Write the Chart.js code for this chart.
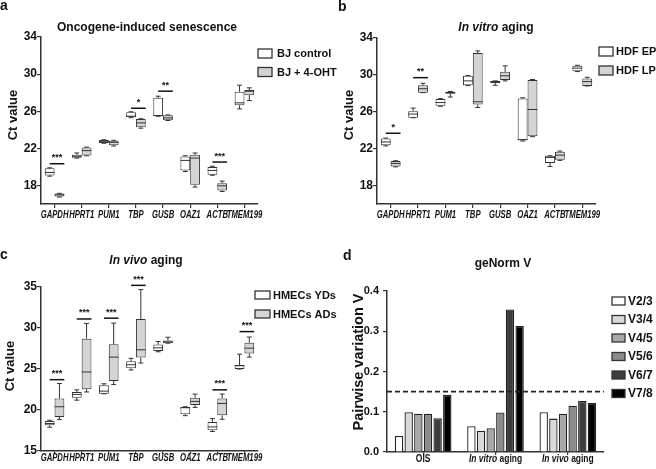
<!DOCTYPE html>
<html>
<head>
<meta charset="utf-8">
<script src="https://cdn.jsdelivr.net/npm/chart.js@4.4.1/dist/chart.umd.min.js"></script>
<style>
  body { margin: 0; background: #fff; width: 656px; height: 469px; overflow: hidden; position: relative; }
  canvas { position: absolute; }
</style>
</head>
<body>
<canvas id="chartA" width="345" height="230" style="left:0;top:0"></canvas>
<canvas id="chartB" width="328" height="230" style="left:328px;top:0"></canvas>
<canvas id="chartC" width="345" height="239" style="left:0;top:230px"></canvas>
<canvas id="chartD" width="328" height="239" style="left:328px;top:230px"></canvas>
<script>
// ---- data ----
const genes = ['GAPDH', 'HPRT1', 'PUM1', 'TBP', 'GUSB', 'OAZ1', 'ACTB', 'TMEM199'];

// each entry: [min, q1, median, q3, max]
const oisControl = [[19.0, 19.08, 19.4, 19.84, 19.9], [20.95, 20.98, 21.15, 21.3, 21.5], [22.55, 22.58, 22.76, 22.9, 22.92],
  [25.3, 25.35, 25.46, 25.9, 25.94], [25.46, 25.46, 25.53, 27.44, 27.62], [19.5, 19.62, 20.7, 21.13, 21.2],
  [19.1, 19.15, 19.62, 20.0, 20.07], [26.25, 26.65, 26.9, 28.1, 28.8]];
const oisTreated = [[16.75, 16.81, 16.99, 17.13, 17.15], [21.2, 21.24, 21.75, 22.1, 22.13], [22.25, 22.32, 22.65, 22.83, 22.87],
  [24.17, 24.27, 24.74, 25.17, 25.19], [25.0, 25.03, 25.28, 25.57, 25.6], [17.82, 18.07, 20.95, 21.3, 21.5],
  [17.35, 17.46, 17.96, 18.25, 18.47], [27.15, 27.73, 28.16, 28.3, 28.52]];
const oisSigGenes = ['GAPDH', 'TBP', 'GUSB', 'ACTB'];
const oisSigLevels = [20.34, 26.32, 28.16, 20.52];
const oisSigStars = ['***', '*', '**', '***'];

const hdfEarly = [[22.3, 22.36, 22.73, 23.09, 23.15], [25.35, 25.35, 25.75, 26.07, 26.4], [26.6, 26.65, 27.0, 27.38, 27.42],
  [28.83, 28.87, 29.35, 29.9, 29.94], [28.87, 29.13, 29.24, 29.35, 29.35], [22.83, 22.9, 22.98, 27.45, 27.52],
  [20.07, 20.44, 21.05, 21.24, 21.24], [30.36, 30.4, 30.73, 31.0, 31.04]];
const hdfLate = [[20.03, 20.07, 20.4, 20.65, 20.69], [28.07, 28.07, 28.5, 28.87, 29.09], [27.6, 27.96, 28.07, 28.18, 28.2],
  [26.47, 26.8, 27.09, 32.36, 32.6], [29.35, 29.45, 29.9, 30.33, 30.98], [23.3, 23.35, 26.25, 29.45, 29.5],
  [20.73, 20.8, 21.3, 21.67, 21.74], [28.8, 28.8, 29.27, 29.6, 29.74]];
const hdfSigGenes = ['GAPDH', 'HPRT1'];
const hdfSigLevels = [23.67, 29.7];
const hdfSigStars = ['*', '**'];

const hmecYoung = [[17.9, 18.15, 18.35, 18.67, 18.75], [21.2, 21.5, 21.9, 22.2, 22.46], [21.98, 21.98, 22.3, 23.02, 23.2],
  [24.88, 25.08, 25.52, 25.93, 26.3], [27.1, 27.18, 27.58, 27.98, 28.35], [19.31, 19.48, 20.28, 20.36, 20.4],
  [17.38, 17.54, 17.94, 18.55, 18.95], [25.0, 25.0, 25.4, 25.48, 26.81]];
const hmecAged = [[18.83, 19.15, 20.4, 21.41, 23.23], [22.2, 22.54, 24.64, 28.7, 30.56], [23.1, 23.55, 26.45, 28.02, 30.6],
  [25.73, 26.41, 27.34, 31.1, 34.68], [28.15, 28.15, 28.3, 28.47, 28.87], [20.32, 20.6, 21.05, 21.5, 21.94],
  [18.87, 19.35, 20.8, 21.41, 21.94], [26.45, 26.9, 27.54, 28.2, 28.9]];
const hmecSigGenes = ['GAPDH', 'HPRT1', 'PUM1', 'TBP', 'ACTB', 'TMEM199'];
const hmecSigLevels = [23.7, 31.1, 31.2, 35.2, 22.46, 29.56];
const hmecSigStars = ['***', '***', '***', '***', '***', '***'];

const ctTicksAB = [18, 22, 26, 30, 34];
const ctTicksC = [15, 20, 25, 30, 35];

const vGroups = ['OIS', 'In vitro aging', 'In vivo aging'];
const vNames = ['V2/3', 'V3/4', 'V4/5', 'V5/6', 'V6/7', 'V7/8'];
const v23 = [0.040, 0.064, 0.099];
const v34 = [0.099, 0.053, 0.083];
const v45 = [0.095, 0.059, 0.095];
const v56 = [0.095, 0.098, 0.115];
const v67 = [0.084, 0.354, 0.127];
const v78 = [0.142, 0.313, 0.122];
const vCutoff = 0.15;
const vTicks = [0, 0.1, 0.2, 0.3, 0.4];

// ---- style ----
const SANS = '"Liberation Sans", Arial, sans-serif';
const INK = '#111';
const EDGE = '#333';
const BOX_GRAY = '#d4d4d4';
const vColors = ['#ffffff', '#d9d9d9', '#a8a8a8', '#8a8a8a', '#3d3d3d', '#000000'];

Chart.defaults.font.family = SANS;
Chart.defaults.color = INK;

// text made of plain/italic parts, centred on (cx, cy), optionally squeezed sideways
function drawRich(ctx, parts, cx, cy, size, squeeze, allItalic) {
  const fonts = parts.map(p => (p[1] || allItalic ? 'italic ' : '') + 'bold ' + size + 'px ' + SANS);
  let total = 0;
  const widths = parts.map((p, i) => {
    ctx.font = fonts[i];
    const w = ctx.measureText(p[0]).width;
    total += w;
    return w;
  });
  ctx.save();
  ctx.translate(cx, cy);
  ctx.scale(squeeze || 1, 1);
  let x = -total / 2;
  ctx.textAlign = 'left';
  ctx.textBaseline = 'middle';
  parts.forEach((p, i) => {
    ctx.font = fonts[i];
    ctx.fillText(p[0], x, 0);
    x += widths[i];
  });
  ctx.restore();
}

function italicPrefix(label) {
  const m = label.match(/^(In v\w+)(.*)$/);
  return m ? [[m[1], true], [m[2], false]] : [[label, false]];
}

// whiskers + medians on top of the floating bars
const boxWhiskers = {
  id: 'boxWhiskers',
  afterDatasetsDraw(chart) {
    const ctx = chart.ctx, y = chart.scales.y;
    ctx.save();
    ctx.strokeStyle = EDGE;
    ctx.lineWidth = 1;
    chart.data.datasets.forEach((ds, di) => {
      if (!ds.stats) return;
      chart.getDatasetMeta(di).data.forEach((bar, i) => {
        const s = ds.stats[i];
        const x = bar.x, hw = bar.width / 2, cap = bar.width * 0.25;
        const py = s.map(v => y.getPixelForValue(v));
        ctx.beginPath();
        ctx.moveTo(x, py[4]); ctx.lineTo(x, py[3]);
        ctx.moveTo(x, py[1]); ctx.lineTo(x, py[0]);
        ctx.moveTo(x - cap, py[4]); ctx.lineTo(x + cap, py[4]);
        ctx.moveTo(x - cap, py[0]); ctx.lineTo(x + cap, py[0]);
        ctx.moveTo(x - hw, py[2]); ctx.lineTo(x + hw, py[2]);
        ctx.stroke();
      });
    });
    ctx.restore();
  }
};

// significance bars with stars
const sigMarks = {
  id: 'sigMarks',
  afterDraw(chart, args, o) {
    if (!o.genes) return;
    const ctx = chart.ctx, xs = chart.scales.x, ys = chart.scales.y;
    const w = chart.getDatasetMeta(0).data[0].width;
    ctx.save();
    ctx.strokeStyle = INK;
    ctx.fillStyle = INK;
    ctx.lineWidth = 1.5;
    ctx.font = 'bold 9px ' + SANS;
    ctx.textAlign = 'center';
    ctx.textBaseline = 'middle';
    o.genes.forEach((g, k) => {
      const cx = xs.getPixelForValue(genes.indexOf(g));
      const py = ys.getPixelForValue(o.levels[k]);
      ctx.beginPath();
      ctx.moveTo(cx - w / 2, py);
      ctx.lineTo(cx + w, py);
      ctx.stroke();
      ctx.fillText(o.stars[k], cx + w / 4, py - 6);
    });
    ctx.restore();
  }
};

// dashed cut-off line for panel d
const cutoffLine = {
  id: 'cutoffLine',
  afterDatasetsDraw(chart, args, o) {
    if (o.value === undefined) return;
    const ctx = chart.ctx, a = chart.chartArea;
    const py = chart.scales.y.getPixelForValue(o.value);
    ctx.save();
    ctx.strokeStyle = '#222';
    ctx.lineWidth = 1.8;
    ctx.setLineDash([5, 3]);
    ctx.beginPath();
    ctx.moveTo(a.left, py);
    ctx.lineTo(a.right, py);
    ctx.stroke();
    ctx.restore();
  }
};

// panel letter, title, y title, legend, condensed x labels
const figureText = {
  id: 'figureText',
  afterDraw(chart, args, o) {
    const ctx = chart.ctx;
    ctx.save();
    ctx.fillStyle = INK;
    ctx.font = 'bold 14px ' + SANS;
    ctx.textAlign = 'left';
    ctx.textBaseline = 'alphabetic';
    ctx.fillText(o.letter, o.letterX, o.letterY);

    drawRich(ctx, o.title, o.titleX, o.titleY, 12);

    ctx.save();
    ctx.translate(o.yTitleX, o.yTitleY);
    ctx.rotate(-Math.PI / 2);
    ctx.font = 'bold ' + o.yTitleSize + 'px ' + SANS;
    ctx.textAlign = 'center';
    ctx.textBaseline = 'middle';
    ctx.fillText(o.yTitle, 0, 0);
    ctx.restore();

    const lg = o.legend;
    chart.data.datasets.forEach((ds, i) => {
      const top = lg.y + i * lg.step;
      ctx.fillStyle = ds.backgroundColor;
      ctx.fillRect(lg.x, top, lg.w, lg.h);
      ctx.strokeStyle = EDGE;
      ctx.lineWidth = 1.3;
      ctx.strokeRect(lg.x, top, lg.w, lg.h);
      ctx.fillStyle = INK;
      ctx.font = 'bold ' + lg.size + 'px ' + SANS;
      ctx.textAlign = 'left';
      ctx.textBaseline = 'middle';
      ctx.fillText(ds.label, lg.tx, top + lg.h / 2 + 0.5);
    });

    const xs = chart.scales.x;
    chart.data.labels.forEach((lab, i) => {
      drawRich(ctx, italicPrefix(lab), xs.getPixelForValue(i), chart.chartArea.bottom + o.xLabelOffset,
        11, o.xSqueeze, o.italicX);
    });
    ctx.restore();
  }
};

function boxPanel(id, g) {
  return new Chart(document.getElementById(id), {
    type: 'bar',
    data: {
      labels: genes,
      datasets: g.groups.map((grp, k) => ({
        label: grp.name,
        data: grp.stats.map(s => [s[1], s[3]]),
        stats: grp.stats,
        backgroundColor: k ? BOX_GRAY : '#ffffff',
        borderColor: EDGE,
        borderWidth: 1,
        borderSkipped: false,
        categoryPercentage: 0.72,
        barPercentage: 1
      }))
    },
    options: {
      responsive: false,
      animation: false,
      layout: { padding: g.pad },
      plugins: {
        legend: { display: false },
        tooltip: { enabled: false },
        sigMarks: g.sig,
        figureText: g.text
      },
      scales: {
        x: {
          grid: { offset: false, drawOnChartArea: false, tickLength: g.xTick, color: EDGE, lineWidth: 1.2 },
          border: { color: EDGE, width: 1.5 },
          ticks: { color: 'rgba(0,0,0,0)', font: { size: 10 }, maxRotation: 0, autoSkip: false },
          afterFit: s => { s.height = g.xH; }
        },
        y: {
          min: g.yMin, max: g.yMax,
          afterBuildTicks: s => { s.ticks = g.yTicks.map(v => ({ value: v })); },
          grid: { drawOnChartArea: false, tickLength: 4, color: EDGE, lineWidth: 1.2 },
          border: { color: EDGE, width: 1.5 },
          ticks: { font: { size: 12, weight: 'bold' }, color: INK, padding: 0 },
          afterFit: s => { s.width = g.yW; }
        }
      }
    },
    plugins: [boxWhiskers, sigMarks, figureText]
  });
}

boxPanel('chartA', {
  groups: [{ name: 'BJ control', stats: oisControl }, { name: 'BJ + 4-OHT', stats: oisTreated }],
  pad: { left: 0, top: 37, right: 87, bottom: 6 }, yW: 41, xH: 20, xTick: 4,
  yMin: 16, yMax: 34, yTicks: ctTicksAB,
  sig: { genes: oisSigGenes, levels: oisSigLevels, stars: oisSigStars },
  text: {
    letter: 'a', letterX: 0, letterY: 10,
    title: [['Oncogene-induced senescence', false]], titleX: 147, titleY: 28,
    yTitle: 'Ct value', yTitleSize: 13, yTitleX: 13, yTitleY: 115,
    legend: { x: 258, y: 49, step: 18.5, w: 14, h: 9, tx: 277, size: 11 },
    xLabelOffset: 11, xSqueeze: 0.7, italicX: true
  }
});

boxPanel('chartB', {
  groups: [{ name: 'HDF EP', stats: hdfEarly }, { name: 'HDF LP', stats: hdfLate }],
  pad: { left: 6, top: 38, right: 60, bottom: 6 }, yW: 43, xH: 20, xTick: 4,
  yMin: 16, yMax: 34, yTicks: ctTicksAB,
  sig: { genes: hdfSigGenes, levels: hdfSigLevels, stars: hdfSigStars },
  text: {
    letter: 'b', letterX: 10, letterY: 11,
    title: [['In vitro', true], [' aging', false]], titleX: 168, titleY: 28,
    yTitle: 'Ct value', yTitleSize: 13, yTitleX: 21, yTitleY: 115,
    legend: { x: 271, y: 47, step: 19, w: 14, h: 9, tx: 288, size: 11 },
    xLabelOffset: 11, xSqueeze: 0.7, italicX: true
  }
});

boxPanel('chartC', {
  groups: [{ name: 'HMECs YDs', stats: hmecYoung }, { name: 'HMECs ADs', stats: hmecAged }],
  pad: { left: 0, top: 57, right: 87, bottom: 4 }, yW: 41, xH: 14, xTick: 3,
  yMin: 15, yMax: 35, yTicks: ctTicksC,
  sig: { genes: hmecSigGenes, levels: hmecSigLevels, stars: hmecSigStars },
  text: {
    letter: 'c', letterX: 0, letterY: 29,
    title: [['In vivo', true], [' aging', false]], titleX: 146, titleY: 31,
    yTitle: 'Ct value', yTitleSize: 13, yTitleX: 10, yTitleY: 136,
    legend: { x: 255, y: 61, step: 19, w: 15, h: 8, tx: 273, size: 11 },
    xLabelOffset: 7, xSqueeze: 0.7, italicX: true
  }
});

const vSeries = [v23, v34, v45, v56, v67, v78];
new Chart(document.getElementById('chartD'), {
  type: 'bar',
  data: {
    labels: vGroups,
    datasets: vSeries.map((vals, i) => ({
      label: vNames[i],
      data: vals,
      backgroundColor: vColors[i],
      borderColor: '#222',
      borderWidth: 1.3,
      categoryPercentage: 0.8,
      barPercentage: 0.87
    }))
  },
  options: {
    responsive: false,
    animation: false,
    layout: { padding: { left: 0, top: 61, right: 52, bottom: 3 } },
    plugins: {
      legend: { display: false },
      tooltip: { enabled: false },
      cutoffLine: { value: vCutoff },
      figureText: {
        letter: 'd', letterX: 15, letterY: 30,
        title: [['geNorm V', false]], titleX: 175, titleY: 34,
        yTitle: 'Pairwise variation V', yTitleSize: 14.5, yTitleX: 31, yTitleY: 132,
        legend: { x: 284, y: 67, step: 18.5, w: 13, h: 8, tx: 300, size: 12 },
        xLabelOffset: 7, xSqueeze: 0.77, italicX: false
      }
    },
    scales: {
      x: {
        grid: { offset: false, drawOnChartArea: false, tickLength: 3, color: EDGE, lineWidth: 1.2 },
        border: { color: EDGE, width: 1.5 },
        ticks: { color: 'rgba(0,0,0,0)', font: { size: 10 }, maxRotation: 0, autoSkip: false },
        afterFit: s => { s.height = 14; }
      },
      y: {
        min: 0, max: 0.4,
        afterBuildTicks: s => { s.ticks = vTicks.map(v => ({ value: v })); },
        grid: { drawOnChartArea: false, tickLength: 4, color: EDGE, lineWidth: 1.2 },
        border: { color: EDGE, width: 1.5 },
        ticks: { font: { size: 11, weight: 'bold' }, color: INK, padding: 4, callback: v => v.toFixed(1) },
        afterFit: s => { s.width = 59; }
      }
    }
  },
  plugins: [cutoffLine, figureText]
});
</script>
</body>
</html>
